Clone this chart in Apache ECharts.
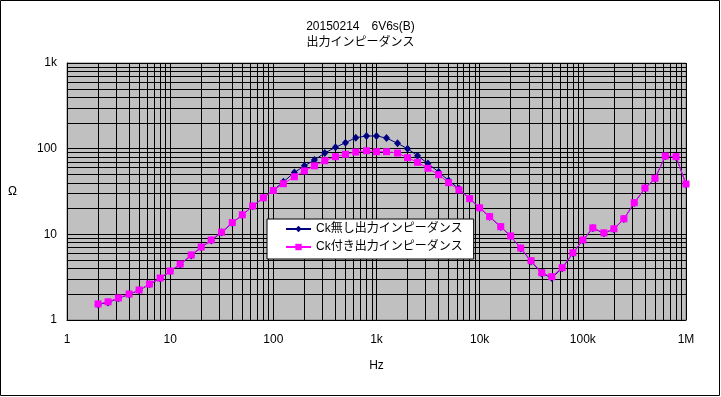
<!DOCTYPE html>
<html><head><meta charset="utf-8">
<script src="https://cdn.jsdelivr.net/npm/echarts@6/dist/echarts.min.js"></script>
<style>html,body{margin:0;padding:0;background:#fff}#c{width:721px;height:397px}</style>
</head><body><div id="c"></div>
<script>
const freqs = [2,2.5,3.15,4,5,6.3,8,
  10,12.5,16,20,25,31.5,40,50,63,80,
  100,125,160,200,250,315,400,500,630,800,
  1000,1250,1600,2000,2500,3150,4000,5000,6300,8000,
  10000,12500,16000,20000,25000,31500,40000,50000,63000,80000,
  100000,125000,160000,200000,250000,315000,400000,500000,630000,800000,
  1000000];
const ckWith = [1.54,1.63,1.81,2.01,2.24,2.63,3.09,
  3.73,4.50,5.74,7.11,8.59,10.6,13.7,16.9,21.4,26.7,
  32.5,39.0,47,55,63,72.3,80.5,86,91.4,94.6,
  92.2,92.2,89.0,78.4,69.3,59.0,49.7,40.1,33.0,26.1,
  20.4,16.1,12.3,9.57,6.92,4.92,3.56,3.20,4.08,6.10,
  8.59,11.9,10.4,11.6,15.2,23.4,34.7,45.1,82.1,80.6,
  38.7];
const ckWithout = [1.52,1.60,1.79,1.99,2.22,2.61,3.06,
  3.70,4.45,5.68,7.05,8.50,10.5,13.6,16.8,21.3,26.6,
  32.7,41.0,52.7,63,73.7,89,103.7,117.4,134.4,140.6,
  140.6,133.1,115.5,99.8,82.7,67,53.4,42.5,34,26.0,
  20.3,16.0,12.2,9.5,6.85,4.85,3.5,3.1,4.02,6.02,
  8.5,11.8,10.3,11.5,15.1,23.2,34.4,44.8,81.5,80.0,
  38.5];
const xTickLabels = {1:'1',10:'10',100:'100',1000:'1k',10000:'10k',100000:'100k',1000000:'1M'};
const yTickLabels = {1:'1',10:'10',100:'100',1000:'1k'};
const seriesNames = ['Ck無し出力インピーダンス','Ck付き出力インピーダンス'];
const titleLines = ['20150214　6V6s(B)','出力インピーダンス'];

function minorValues(lo, hi){
  const out=[];
  for(let d=lo; d<hi; d*=10){ for(let m=2;m<=9;m++) out.push(d*m); }
  return out;
}
const xMinor = minorValues(1, 1000000);
const yMinor = minorValues(1, 1000);
const font = '"Liberation Sans","Noto Sans CJK JP",sans-serif';

const chart = echarts.init(document.getElementById('c'), null, {renderer:'canvas'});
const gridLine = {color:'#000', width:1, type:'solid'};
chart.setOption({
  animation:false,
  backgroundColor:'#fff',
  textStyle:{fontFamily:font},
  title:{
    text: titleLines.join('\n'),
    left:'center', top:14,
    textStyle:{fontSize:12, fontWeight:'normal', color:'#000', lineHeight:16, fontFamily:font}
  },
  grid:{left:67, right:35, top:63, bottom:77, show:true, backgroundColor:'#C0C0C0', borderColor:'#808080', borderWidth:1},
  legend:{
    data: seriesNames, z:20,
    orient:'vertical', left:267, top:219,
    backgroundColor:'#fff', borderColor:'#000', borderWidth:1, borderRadius:0,
    padding:[4,11,6,18], itemGap:6, itemWidth:25, itemHeight:8,
    textStyle:{fontSize:12, color:'#000', fontFamily:font}
  },
  xAxis:{
    type:'log', logBase:10, min:1, max:1000000,
    name:'Hz', nameLocation:'middle', nameGap:40,
    nameTextStyle:{fontSize:12, color:'#000', fontFamily:font},
    axisLine:{show:true, lineStyle:{color:'#000', width:1}},
    axisTick:{show:false},
    axisLabel:{margin:14, fontSize:12, color:'#000', fontFamily:font, formatter:v=>xTickLabels[Math.round(v)]||''},
    splitLine:{show:true, lineStyle:gridLine},
    minorTick:{show:false}, minorSplitLine:{show:false}
  },
  yAxis:{
    type:'log', logBase:10, min:1, max:1000,
    name:'Ω', nameLocation:'middle', nameRotate:0, nameGap:50,
    nameTextStyle:{fontSize:12, color:'#000', fontFamily:font},
    axisLine:{show:true, lineStyle:{color:'#000', width:1}},
    axisTick:{show:false},
    axisLabel:{margin:10, fontSize:12, color:'#000', fontFamily:font, formatter:v=>yTickLabels[Math.round(v)]||''},
    splitLine:{show:true, lineStyle:gridLine}
  },
  series:[
    {
      type:'line', data:[], z:1, silent:true,
      markLine:{
        z:1, silent:true, symbol:['none','none'], label:{show:false},
        lineStyle:{color:'#000', width:1, type:'solid'},
        emphasis:{disabled:true},
        data: xMinor.map(v=>({xAxis:v})).concat(yMinor.map(v=>({yAxis:v})))
      }
    },
    {
      name:seriesNames[0], type:'line', z:3,
      data: freqs.map((f,i)=>[f, ckWithout[i]]),
      symbol:'diamond', symbolSize:[7,8],
      lineStyle:{color:'#000080', width:1},
      itemStyle:{color:'#000080'}
    },
    {
      name:seriesNames[1], type:'line', z:4,
      data: freqs.map((f,i)=>[f, ckWith[i]]),
      symbol:'rect', symbolSize:7,
      lineStyle:{color:'#FF00FF', width:1},
      itemStyle:{color:'#FF00FF'}
    }
  ],
  graphic:[{type:'rect', shape:{x:0.5,y:0.5,width:719,height:395}, style:{fill:null, stroke:'#000', lineWidth:1}, silent:true, z:-1}]
});
</script></body></html>
